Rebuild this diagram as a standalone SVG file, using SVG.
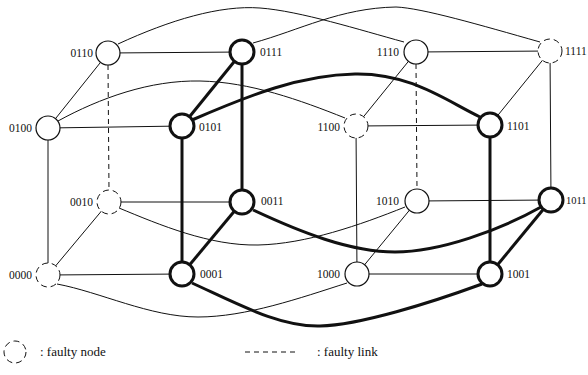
<svg xmlns="http://www.w3.org/2000/svg" width="588" height="375" viewBox="0 0 588 375">
  <style>
    .link { fill: none; stroke: #111; stroke-width: 1; }
    .link.heavy { stroke-width: 3; }
    .link.faulty { stroke-dasharray: 5 4; }
    .node circle { fill: #fff; stroke: #111; stroke-width: 1.2; }
    .node.heavy circle { stroke-width: 3; }
    .node.faulty circle { stroke-width: 1; stroke-dasharray: 6 4; }
    text { font-family: "Liberation Serif", "Times New Roman", serif; font-size: 11.5px; fill: #111; }
    .legend text { font-size: 13px; }
  </style>

  <!-- links of the 4-cube -->
  <g id="links">
    <!-- sub-cube 0xxx -->
    <line class="link" x1="108" y1="53" x2="242" y2="52"/>
    <line class="link" x1="108" y1="53" x2="48" y2="128"/>
    <line class="link faulty" x1="108" y1="65" x2="109" y2="190"/>
    <line class="link" x1="48" y1="128" x2="182" y2="126"/>
    <line class="link" x1="48" y1="128" x2="48" y2="275"/>
    <line class="link heavy" x1="182" y1="126" x2="242" y2="52"/>
    <line class="link heavy" x1="182" y1="126" x2="182" y2="274"/>
    <line class="link heavy" x1="242" y1="52" x2="242" y2="202"/>
    <line class="link" x1="109" y1="202" x2="242" y2="202"/>
    <line class="link" x1="109" y1="202" x2="48" y2="275"/>
    <line class="link heavy" x1="242" y1="202" x2="182" y2="274"/>
    <line class="link" x1="48" y1="275" x2="182" y2="274"/>

    <!-- sub-cube 1xxx -->
    <line class="link" x1="416" y1="52" x2="550" y2="51"/>
    <line class="link" x1="416" y1="52" x2="356" y2="126"/>
    <line class="link faulty" x1="416" y1="64" x2="417" y2="189"/>
    <line class="link" x1="356" y1="126" x2="490" y2="125"/>
    <line class="link" x1="356" y1="126" x2="357" y2="274"/>
    <line class="link" x1="490" y1="125" x2="550" y2="51"/>
    <line class="link heavy" x1="490" y1="125" x2="490" y2="274"/>
    <line class="link" x1="550" y1="51" x2="551" y2="200"/>
    <line class="link" x1="417" y1="201" x2="551" y2="200"/>
    <line class="link" x1="417" y1="201" x2="357" y2="274"/>
    <line class="link heavy" x1="551" y1="200" x2="490" y2="274"/>
    <line class="link" x1="357" y1="274" x2="490" y2="274"/>

    <!-- dimension links between the two sub-cubes -->
    <path class="link" d="M118,44 C170,20 220,5 260,8 S360,30 404,42"/>
    <path class="link" d="M253,43 C300,30 340,8 396,7 C422,8 480,25 540,42"/>
    <path class="link" d="M58,121 C100,98 150,80 200,81 S300,100 345,118"/>
    <path class="link heavy" d="M192,120 C250,95 300,75 355,74 S445,100 480,117"/>
    <path class="link" d="M119,208 C160,225 210,246 258,245 S360,225 405,207"/>
    <path class="link heavy" d="M253,210 C300,232 350,252 395,252 S500,230 541,207"/>
    <path class="link" d="M57,284 C100,292 150,317 198,317 S300,298 347,283"/>
    <path class="link heavy" d="M192,283 C240,305 280,327 320,326 S430,303 482,284"/>
  </g>

  <!-- nodes -->
  <g id="n0110" class="node"><circle cx="108" cy="53" r="12"/><text x="93" y="57" text-anchor="end">0110</text></g>
  <g id="n0111" class="node heavy"><circle cx="242" cy="52" r="12"/><text x="260" y="56">0111</text></g>
  <g id="n1110" class="node"><circle cx="416" cy="52" r="12"/><text x="399" y="56" text-anchor="end">1110</text></g>
  <g id="n1111" class="node faulty"><circle cx="550" cy="51" r="12"/><text x="565" y="55">1111</text></g>

  <g id="n0100" class="node"><circle cx="48" cy="128" r="12"/><text x="32" y="132" text-anchor="end">0100</text></g>
  <g id="n0101" class="node heavy"><circle cx="182" cy="126" r="12"/><text x="199" y="131">0101</text></g>
  <g id="n1100" class="node faulty"><circle cx="356" cy="126" r="12"/><text x="340" y="131" text-anchor="end">1100</text></g>
  <g id="n1101" class="node heavy"><circle cx="490" cy="125" r="12"/><text x="507" y="130">1101</text></g>

  <g id="n0010" class="node faulty"><circle cx="109" cy="202" r="12"/><text x="93" y="206" text-anchor="end">0010</text></g>
  <g id="n0011" class="node heavy"><circle cx="242" cy="202" r="12"/><text x="261" y="205">0011</text></g>
  <g id="n1010" class="node"><circle cx="417" cy="201" r="12"/><text x="399" y="205" text-anchor="end">1010</text></g>
  <g id="n1011" class="node heavy"><circle cx="551" cy="200" r="12"/><text x="566" y="204" style="font-size:10.5px">1011</text></g>

  <g id="n0000" class="node faulty"><circle cx="48" cy="275" r="12"/><text x="32" y="279" text-anchor="end">0000</text></g>
  <g id="n0001" class="node heavy"><circle cx="182" cy="274" r="12"/><text x="200" y="278">0001</text></g>
  <g id="n1000" class="node"><circle cx="357" cy="274" r="12"/><text x="340" y="278" text-anchor="end">1000</text></g>
  <g id="n1001" class="node heavy"><circle cx="490" cy="274" r="12"/><text x="507" y="278">1001</text></g>

  <!-- legend -->
  <g id="legend" class="legend">
    <g class="node faulty"><circle cx="15" cy="352" r="11"/></g>
    <text x="40" y="356">:  faulty node</text>
    <line class="link faulty" x1="245" y1="352" x2="298" y2="352"/>
    <text x="317" y="356">:  faulty link</text>
  </g>
</svg>
